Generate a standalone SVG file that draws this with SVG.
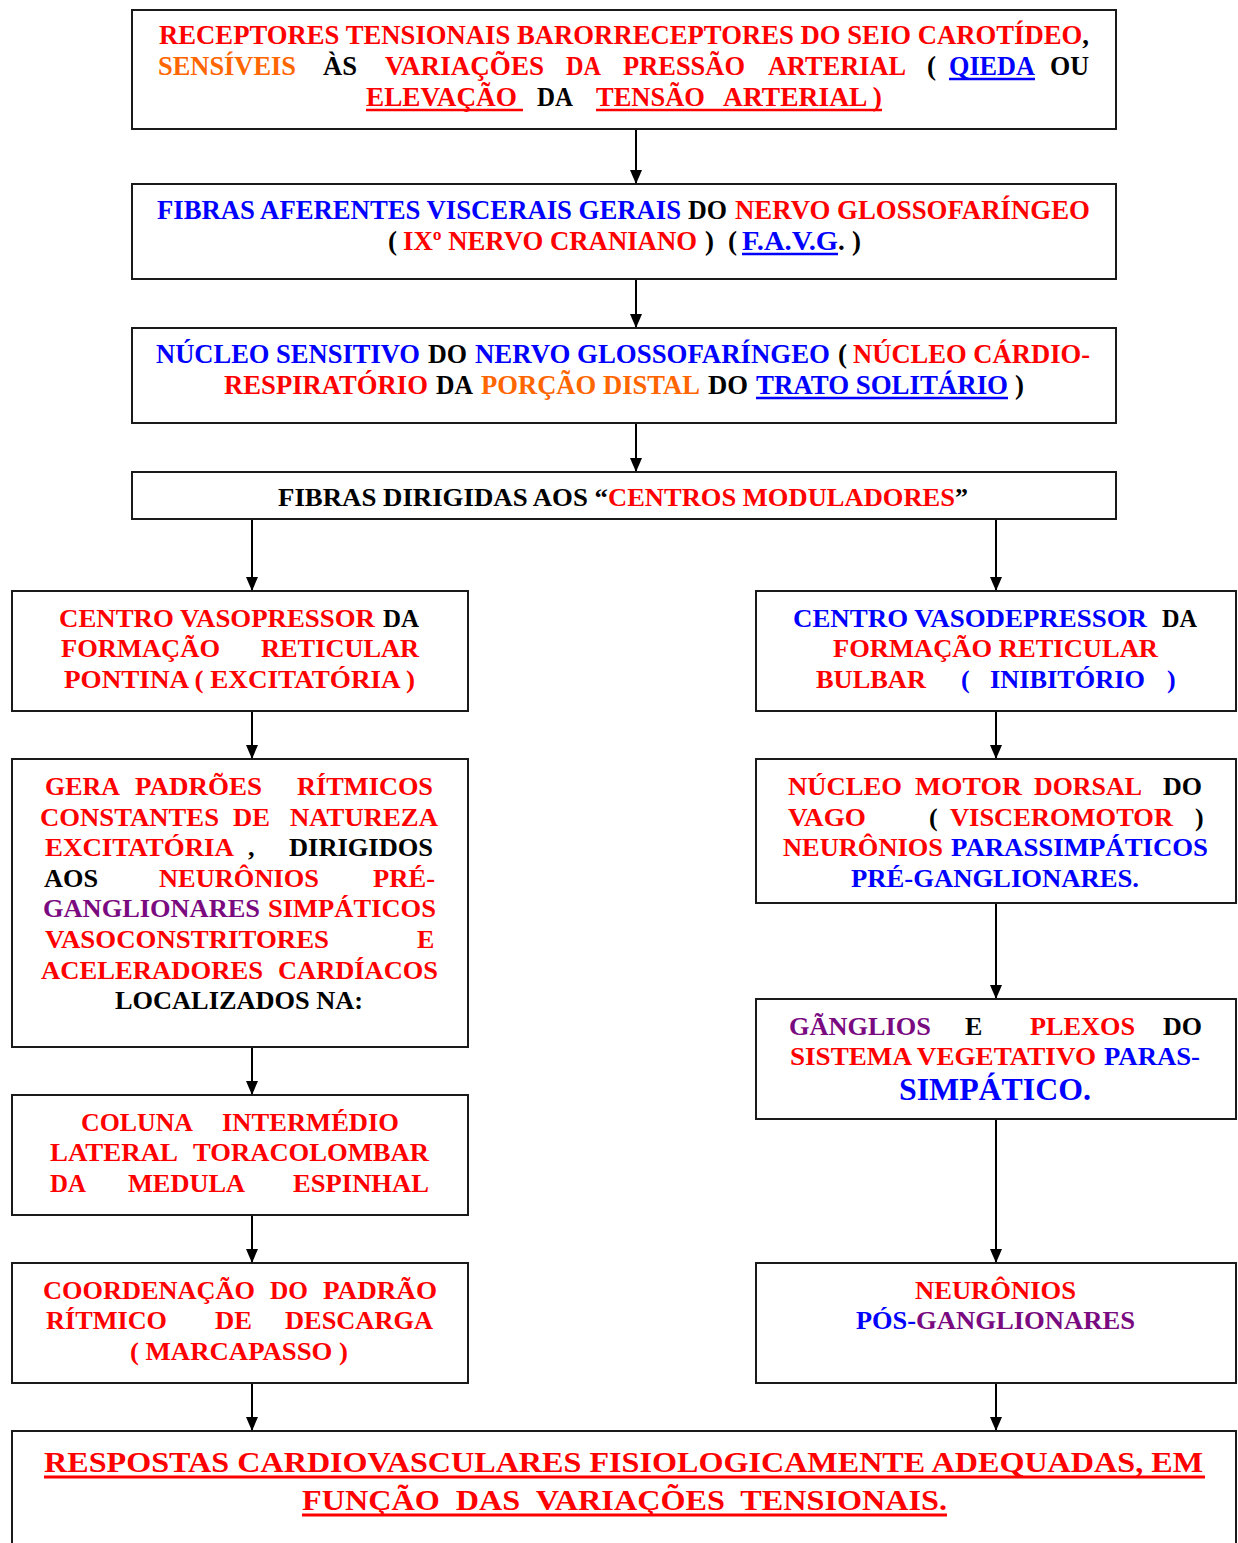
<svg xmlns="http://www.w3.org/2000/svg" width="1238" height="1543" viewBox="0 0 1238 1543">
<style>
  .box { fill: #ffffff; stroke: #1a1a1a; stroke-width: 2; }
  .t { font-family: 'Liberation Serif', 'Times New Roman', Tinos, 'DejaVu Serif', serif; font-weight: 700; }
  .cn { font-size: 27px; }
  .nm { font-size: 26px; }
  .big { font-size: 32px; }
  .ft { font-size: 30px; }
  .lt { font-size: 26px; }
  .r { fill: #ff0000; }
  .b { fill: #0000ff; }
  .k { fill: #000000; }
  .o { fill: #ff6600; }
  .p { fill: #7a0a7f; }
  .ul { stroke-width: 2.5; }
  .ulr { stroke: #ff0000; }
  .ulb { stroke: #0000ff; }
  .con line { stroke: #000000; stroke-width: 2; marker-end: url(#ah); }
</style>
<defs>
  <marker id="ah" markerWidth="14" markerHeight="12" refX="14" refY="6" orient="auto" markerUnits="userSpaceOnUse">
    <path d="M0,0 L14,6 L0,12 z" fill="#000000"/>
  </marker>
</defs>
<rect x="0" y="0" width="1238" height="1543" fill="#ffffff"/>

<!-- connectors -->
<g id="connectors" class="con">
  <line x1="636" y1="129" x2="636" y2="184"/>
  <line x1="636" y1="279" x2="636" y2="328"/>
  <line x1="636" y1="423" x2="636" y2="472"/>
  <line x1="252" y1="519" x2="252" y2="591"/>
  <line x1="996" y1="519" x2="996" y2="591"/>
  <line x1="252" y1="711" x2="252" y2="759"/>
  <line x1="252" y1="1047" x2="252" y2="1095"/>
  <line x1="252" y1="1215" x2="252" y2="1263"/>
  <line x1="252" y1="1383" x2="252" y2="1431"/>
  <line x1="996" y1="711" x2="996" y2="759"/>
  <line x1="996" y1="903" x2="996" y2="999"/>
  <line x1="996" y1="1119" x2="996" y2="1263"/>
  <line x1="996" y1="1383" x2="996" y2="1431"/>
</g>

<!-- baroreceptors -->
<g id="receptores" class="t cn">
  <rect class="box" x="132" y="10" width="984" height="119"/>
  <text class="r" x="159" y="44" textLength="930" lengthAdjust="spacingAndGlyphs">RECEPTORES TENSIONAIS BARORRECEPTORES DO SEIO CAROTÍDEO<tspan class="k">,</tspan></text>
  <text class="o" x="158" y="75" textLength="138" lengthAdjust="spacingAndGlyphs">SENSÍVEIS</text>
  <text class="k" x="323" y="75" textLength="34" lengthAdjust="spacingAndGlyphs">ÀS</text>
  <text class="r" x="385" y="75" textLength="159" lengthAdjust="spacingAndGlyphs">VARIAÇÕES</text>
  <text class="r" x="566" y="75" textLength="35" lengthAdjust="spacingAndGlyphs">DA</text>
  <text class="r" x="623" y="75" textLength="122" lengthAdjust="spacingAndGlyphs">PRESSÃO</text>
  <text class="r" x="768" y="75" textLength="138" lengthAdjust="spacingAndGlyphs">ARTERIAL</text>
  <text class="k" x="927" y="75">(</text>
  <text class="b" x="949" y="75" textLength="86" lengthAdjust="spacingAndGlyphs">QIEDA</text>
  <line class="ul ulb" x1="949" y1="79" x2="1035" y2="79"/>
  <text class="k" x="1050" y="75" textLength="39" lengthAdjust="spacingAndGlyphs">OU</text>
  <text class="r" x="366" y="106" textLength="151" lengthAdjust="spacingAndGlyphs">ELEVAÇÃO</text>
  <line class="ul ulr" x1="366" y1="110" x2="523" y2="110"/>
  <text class="k" x="537" y="106" textLength="36" lengthAdjust="spacingAndGlyphs">DA</text>
  <text class="r" x="596" y="106" textLength="109" lengthAdjust="spacingAndGlyphs">TENSÃO</text>
  <text class="r" x="723" y="106" textLength="159" lengthAdjust="spacingAndGlyphs">ARTERIAL )</text>
  <line class="ul ulr" x1="596" y1="110" x2="882" y2="110"/>
</g>

<!-- afferent fibres -->
<g id="fibras-aferentes" class="t cn">
  <rect class="box" x="132" y="184" width="984" height="95"/>
  <text class="b" x="157" y="219" textLength="524" lengthAdjust="spacingAndGlyphs">FIBRAS AFERENTES VISCERAIS GERAIS</text>
  <text class="k" x="688" y="219" textLength="39" lengthAdjust="spacingAndGlyphs">DO</text>
  <text class="r" x="735" y="219" textLength="355" lengthAdjust="spacingAndGlyphs">NERVO GLOSSOFARÍNGEO</text>
  <text class="k" x="388" y="250">(</text>
  <text class="r" x="403" y="250" textLength="294" lengthAdjust="spacingAndGlyphs">IXº NERVO CRANIANO</text>
  <text class="k" x="705" y="250">)</text>
  <text class="k" x="728" y="250">(</text>
  <text class="b" x="742" y="250" textLength="96" lengthAdjust="spacingAndGlyphs">F.A.V.G</text>
  <line class="ul ulb" x1="742" y1="254" x2="838" y2="254"/>
  <text class="k" x="838" y="250">.</text>
  <text class="k" x="852" y="250">)</text>
</g>

<!-- sensory nucleus -->
<g id="nucleo-sensitivo" class="t cn">
  <rect class="box" x="132" y="328" width="984" height="95"/>
  <text class="b" x="156" y="363" textLength="264" lengthAdjust="spacingAndGlyphs">NÚCLEO SENSITIVO</text>
  <text class="k" x="428" y="363" textLength="39" lengthAdjust="spacingAndGlyphs">DO</text>
  <text class="b" x="475" y="363" textLength="355" lengthAdjust="spacingAndGlyphs">NERVO GLOSSOFARÍNGEO</text>
  <text class="k" x="838" y="363">(</text>
  <text class="r" x="853" y="363" textLength="237" lengthAdjust="spacingAndGlyphs">NÚCLEO CÁRDIO-</text>
  <text class="r" x="224" y="394" textLength="204" lengthAdjust="spacingAndGlyphs">RESPIRATÓRIO</text>
  <text class="k" x="436" y="394" textLength="37" lengthAdjust="spacingAndGlyphs">DA</text>
  <text class="o" x="481" y="394" textLength="219" lengthAdjust="spacingAndGlyphs">PORÇÃO DISTAL</text>
  <text class="k" x="708" y="394" textLength="40" lengthAdjust="spacingAndGlyphs">DO</text>
  <text class="b" x="756" y="394" textLength="252" lengthAdjust="spacingAndGlyphs">TRATO SOLITÁRIO</text>
  <line class="ul ulb" x1="756" y1="398" x2="1008" y2="398"/>
  <text class="k" x="1015" y="394">)</text>
</g>

<!-- fibres to modulating centres -->
<g id="fibras-dirigidas" class="t nm">
  <rect class="box" x="132" y="472" width="984" height="47"/>
  <text class="k" x="278" y="506" textLength="330" lengthAdjust="spacingAndGlyphs">FIBRAS DIRIGIDAS AOS “</text>
  <text class="r" x="608" y="506" textLength="347" lengthAdjust="spacingAndGlyphs">CENTROS MODULADORES</text>
  <text class="k" x="955" y="506">”</text>
</g>

<!-- left column -->
<g id="centro-vasopressor" class="t nm">
  <rect class="box" x="12" y="591" width="456" height="120"/>
  <text class="r" x="59" y="627" textLength="316" lengthAdjust="spacingAndGlyphs">CENTRO VASOPRESSOR</text>
  <text class="k" x="383" y="627" textLength="36" lengthAdjust="spacingAndGlyphs">DA</text>
  <text class="r" x="61" y="657" textLength="159" lengthAdjust="spacingAndGlyphs">FORMAÇÃO</text>
  <text class="r" x="261" y="657" textLength="158" lengthAdjust="spacingAndGlyphs">RETICULAR</text>
  <text class="r" x="64" y="688" textLength="351" lengthAdjust="spacingAndGlyphs">PONTINA ( EXCITATÓRIA )</text>
</g>

<g id="padroes-ritmicos" class="t nm">
  <rect class="box" x="12" y="759" width="456" height="288"/>
  <text class="r" x="45" y="795" textLength="75" lengthAdjust="spacingAndGlyphs">GERA</text>
  <text class="r" x="135" y="795" textLength="127" lengthAdjust="spacingAndGlyphs">PADRÕES</text>
  <text class="r" x="297" y="795" textLength="136" lengthAdjust="spacingAndGlyphs">RÍTMICOS</text>
  <text class="r" x="40" y="826" textLength="179" lengthAdjust="spacingAndGlyphs">CONSTANTES</text>
  <text class="r" x="233" y="826" textLength="37" lengthAdjust="spacingAndGlyphs">DE</text>
  <text class="r" x="290" y="826" textLength="148" lengthAdjust="spacingAndGlyphs">NATUREZA</text>
  <text class="r" x="45" y="856" textLength="189" lengthAdjust="spacingAndGlyphs">EXCITATÓRIA</text>
  <text class="k" x="248" y="856">,</text>
  <text class="k" x="289" y="856" textLength="144" lengthAdjust="spacingAndGlyphs">DIRIGIDOS</text>
  <text class="k" x="44" y="887" textLength="54" lengthAdjust="spacingAndGlyphs">AOS</text>
  <text class="r" x="159" y="887" textLength="160" lengthAdjust="spacingAndGlyphs">NEURÔNIOS</text>
  <text class="r" x="373" y="887" textLength="62" lengthAdjust="spacingAndGlyphs">PRÉ-</text>
  <text class="p" x="43" y="917" textLength="217" lengthAdjust="spacingAndGlyphs">GANGLIONARES</text>
  <text class="r" x="268" y="917" textLength="168" lengthAdjust="spacingAndGlyphs">SIMPÁTICOS</text>
  <text class="r" x="45" y="948" textLength="284" lengthAdjust="spacingAndGlyphs">VASOCONSTRITORES</text>
  <text class="r" x="417" y="948">E</text>
  <text class="r" x="41" y="979" textLength="222" lengthAdjust="spacingAndGlyphs">ACELERADORES</text>
  <text class="r" x="278" y="979" textLength="160" lengthAdjust="spacingAndGlyphs">CARDÍACOS</text>
  <text class="k" x="115" y="1009" textLength="248" lengthAdjust="spacingAndGlyphs">LOCALIZADOS NA:</text>
</g>

<g id="coluna-intermedio" class="t nm">
  <rect class="box" x="12" y="1095" width="456" height="120"/>
  <text class="r" x="81" y="1131" textLength="112" lengthAdjust="spacingAndGlyphs">COLUNA</text>
  <text class="r" x="222" y="1131" textLength="177" lengthAdjust="spacingAndGlyphs">INTERMÉDIO</text>
  <text class="r" x="50" y="1161" textLength="128" lengthAdjust="spacingAndGlyphs">LATERAL</text>
  <text class="r" x="193" y="1161" textLength="236" lengthAdjust="spacingAndGlyphs">TORACOLOMBAR</text>
  <text class="r" x="50" y="1192" textLength="36" lengthAdjust="spacingAndGlyphs">DA</text>
  <text class="r" x="128" y="1192" textLength="117" lengthAdjust="spacingAndGlyphs">MEDULA</text>
  <text class="r" x="293" y="1192" textLength="136" lengthAdjust="spacingAndGlyphs">ESPINHAL</text>
</g>

<g id="marcapasso" class="t nm">
  <rect class="box" x="12" y="1263" width="456" height="120"/>
  <text class="r" x="43" y="1299" textLength="212" lengthAdjust="spacingAndGlyphs">COORDENAÇÃO</text>
  <text class="r" x="270" y="1299" textLength="38" lengthAdjust="spacingAndGlyphs">DO</text>
  <text class="r" x="323" y="1299" textLength="114" lengthAdjust="spacingAndGlyphs">PADRÃO</text>
  <text class="r" x="46" y="1329" textLength="121" lengthAdjust="spacingAndGlyphs">RÍTMICO</text>
  <text class="r" x="215" y="1329" textLength="37" lengthAdjust="spacingAndGlyphs">DE</text>
  <text class="r" x="285" y="1329" textLength="148" lengthAdjust="spacingAndGlyphs">DESCARGA</text>
  <text class="r" x="130" y="1360" textLength="218" lengthAdjust="spacingAndGlyphs">( MARCAPASSO )</text>
</g>

<!-- right column -->
<g id="centro-vasodepressor" class="t nm">
  <rect class="box" x="756" y="591" width="480" height="120"/>
  <text class="b" x="793" y="627" textLength="354" lengthAdjust="spacingAndGlyphs">CENTRO VASODEPRESSOR</text>
  <text class="k" x="1162" y="627" textLength="35" lengthAdjust="spacingAndGlyphs">DA</text>
  <text class="r" x="833" y="657" textLength="325" lengthAdjust="spacingAndGlyphs">FORMAÇÃO RETICULAR</text>
  <text class="r" x="816" y="688" textLength="110" lengthAdjust="spacingAndGlyphs">BULBAR</text>
  <text class="b" x="961" y="688">(</text>
  <text class="b" x="990" y="688" textLength="155" lengthAdjust="spacingAndGlyphs">INIBITÓRIO</text>
  <text class="b" x="1167" y="688">)</text>
</g>

<g id="nucleo-motor-dorsal" class="t nm">
  <rect class="box" x="756" y="759" width="480" height="144"/>
  <text class="r" x="788" y="795" textLength="114" lengthAdjust="spacingAndGlyphs">NÚCLEO</text>
  <text class="r" x="915" y="795" textLength="107" lengthAdjust="spacingAndGlyphs">MOTOR</text>
  <text class="r" x="1034" y="795" textLength="108" lengthAdjust="spacingAndGlyphs">DORSAL</text>
  <text class="k" x="1163" y="795" textLength="39" lengthAdjust="spacingAndGlyphs">DO</text>
  <text class="r" x="788" y="826" textLength="78" lengthAdjust="spacingAndGlyphs">VAGO</text>
  <text class="k" x="929" y="826">(</text>
  <text class="r" x="950" y="826" textLength="223" lengthAdjust="spacingAndGlyphs">VISCEROMOTOR</text>
  <text class="k" x="1195" y="826">)</text>
  <text class="r" x="783" y="856" textLength="160" lengthAdjust="spacingAndGlyphs">NEURÔNIOS</text>
  <text class="b" x="951" y="856" textLength="257" lengthAdjust="spacingAndGlyphs">PARASSIMPÁTICOS</text>
  <text class="b" x="851" y="887" textLength="288" lengthAdjust="spacingAndGlyphs">PRÉ-GANGLIONARES.</text>
</g>

<g id="ganglios-plexos" class="t nm">
  <rect class="box" x="756" y="999" width="480" height="120"/>
  <text class="p" x="789" y="1035" textLength="142" lengthAdjust="spacingAndGlyphs">GÃNGLIOS</text>
  <text class="k" x="965" y="1035">E</text>
  <text class="r" x="1030" y="1035" textLength="105" lengthAdjust="spacingAndGlyphs">PLEXOS</text>
  <text class="k" x="1163" y="1035" textLength="39" lengthAdjust="spacingAndGlyphs">DO</text>
  <text class="r" x="790" y="1065" textLength="306" lengthAdjust="spacingAndGlyphs">SISTEMA VEGETATIVO</text>
  <text class="b" x="1104" y="1065" textLength="96" lengthAdjust="spacingAndGlyphs">PARAS-</text>
  <text class="b big" x="899" y="1100" textLength="192" lengthAdjust="spacingAndGlyphs">SIMPÁTICO.</text>
</g>

<g id="neuronios-pos" class="t lt">
  <rect class="box" x="756" y="1263" width="480" height="120"/>
  <text class="r" x="915" y="1299" textLength="161" lengthAdjust="spacingAndGlyphs">NEURÔNIOS</text>
  <text class="b" x="856" y="1329" textLength="60" lengthAdjust="spacingAndGlyphs">PÓS-</text>
  <text class="p" x="916" y="1329" textLength="219" lengthAdjust="spacingAndGlyphs">GANGLIONARES</text>
</g>

<!-- outcome -->
<g id="respostas" class="t ft">
  <rect class="box" x="12" y="1431" width="1224" height="130"/>
  <text class="r" x="44" y="1472" textLength="1159" lengthAdjust="spacingAndGlyphs">RESPOSTAS CARDIOVASCULARES FISIOLOGICAMENTE ADEQUADAS, EM</text>
  <line class="ulr" stroke-width="3" x1="44" y1="1477" x2="1205" y2="1477"/>
  <text class="r" x="302" y="1510" textLength="645" lengthAdjust="spacingAndGlyphs" xml:space="preserve">FUNÇÃO  DAS  VARIAÇÕES  TENSIONAIS.</text>
  <line class="ulr" stroke-width="3" x1="302" y1="1515" x2="947" y2="1515"/>
</g>
</svg>
